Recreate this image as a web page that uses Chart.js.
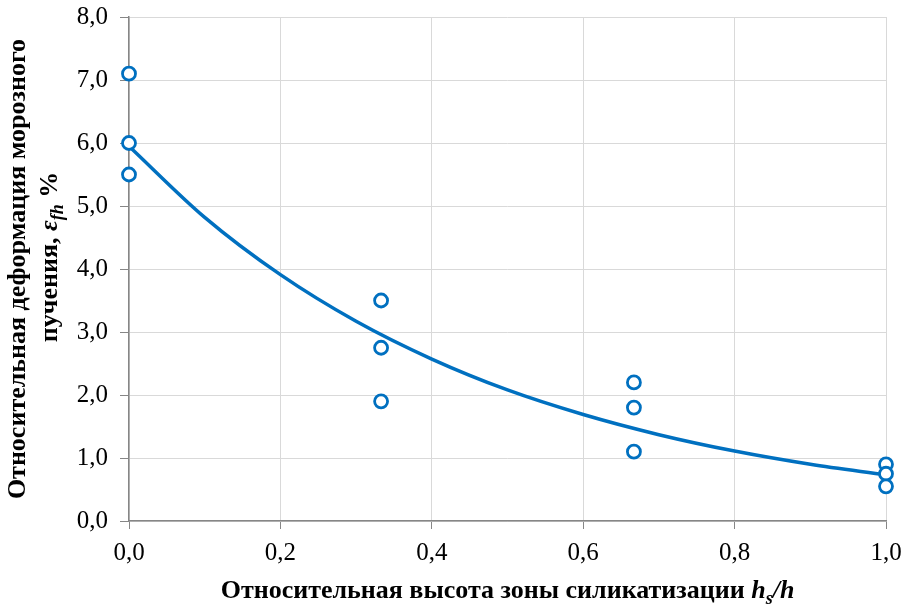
<!DOCTYPE html>
<html>
<head>
<meta charset="utf-8">
<script src="https://cdn.jsdelivr.net/npm/chart.js@4.4.1/dist/chart.umd.min.js"></script>
<style>
html,body{margin:0;padding:0;background:#fff;}
#wrap{width:906px;height:608px;}
</style>
</head>
<body>
<div id="wrap"><canvas id="c" width="906" height="608"></canvas></div>
<script>
// Measured points (x = hs/h, y = εfh %)
const pointsX = [0, 0, 0, 0.333, 0.333, 0.333, 0.667, 0.667, 0.667, 1, 1, 1];
const pointsY = [7.1, 6.0, 5.5, 3.5, 2.75, 1.9, 2.2, 1.8, 1.1, 0.9, 0.75, 0.55];
// Trend curve
const trendX = [0, 0.1, 0.2, 0.3, 0.4, 0.5, 0.6, 0.7, 0.8, 0.9, 1.0];
const trendY = [5.95, 4.82, 3.91, 3.17, 2.57, 2.08, 1.69, 1.37, 1.11, 0.90, 0.73];
const xTicks = [0, 0.2, 0.4, 0.6, 0.8, 1.0];
const yTicks = [0, 1, 2, 3, 4, 5, 6, 7, 8];

const BLUE = '#0070C0';
const fmt = v => Number(v).toFixed(1).replace('.', ',');

function drawRuns(ctx, runs, cx, cy) {
  let total = 0;
  runs.forEach(r => { ctx.font = r.font; r.w = ctx.measureText(r.t).width; total += r.w; });
  let x = cx - total / 2;
  runs.forEach(r => {
    ctx.font = r.font;
    ctx.fillText(r.t, x, cy + (r.dy || 0));
    x += r.w;
  });
}

const titles = {
  id: 'titles',
  afterDraw(chart) {
    const ctx = chart.ctx;
    const a = chart.chartArea;
    ctx.save();
    ctx.fillStyle = '#000';
    ctx.textBaseline = 'alphabetic';
    ctx.textAlign = 'left';
    const B = 'bold 26px "Liberation Serif"';
    const BI = 'italic bold 26px "Liberation Serif"';
    const SI = 'italic bold 18px "Liberation Serif"';
    drawRuns(ctx, [
      {t: 'Относительная высота зоны силикатизации ', font: B},
      {t: 'h', font: BI},
      {t: 's', font: SI, dy: 6},
      {t: '/h', font: BI}
    ], (a.left + a.right) / 2, 598);
    ctx.save();
    const cy = (a.top + a.bottom) / 2;
    ctx.translate(25, cy);
    ctx.rotate(-Math.PI / 2);
    drawRuns(ctx, [{t: 'Относительная деформация морозного', font: B}], 0, 0);
    drawRuns(ctx, [
      {t: 'пучения, ', font: B},
      {t: 'ε', font: BI},
      {t: 'fh', font: SI, dy: 6},
      {t: ' %', font: B}
    ], 12, 32);
    ctx.restore();
    ctx.restore();
  }
};

new Chart(document.getElementById('c'), {
  type: 'scatter',
  data: {
    datasets: [
      {
        label: 'trend',
        data: trendX.map((x, i) => ({x: x, y: trendY[i]})),
        showLine: true,
        borderColor: BLUE,
        borderWidth: 3.5,
        pointRadius: 0,
        cubicInterpolationMode: 'monotone',
        clip: false,
        order: 2
      },
      {
        label: 'data',
        data: pointsX.map((x, i) => ({x: x, y: pointsY[i]})),
        showLine: false,
        pointStyle: 'circle',
        pointRadius: 6.5,
        pointBorderWidth: 2.8,
        pointBorderColor: BLUE,
        pointBackgroundColor: '#fff',
        clip: false,
        order: 1
      }
    ]
  },
  options: {
    responsive: false,
    animation: false,
    layout: {padding: {left: 0, right: 20, top: 17, bottom: 0}},
    plugins: {legend: {display: false}, tooltip: {enabled: false}},
    scales: {
      x: {
        type: 'linear', min: 0, max: 1,
        afterBuildTicks: s => { s.ticks = xTicks.map(v => ({value: v})); },
        afterFit: s => { s.height = 87; s.paddingLeft = 0; s.paddingRight = 0; },
        grid: {color: '#d9d9d9', lineWidth: 1, tickColor: '#868686', tickLength: 8, drawOnChartArea: true},
        border: {color: '#868686', width: 1.5},
        ticks: {color: '#000', font: {family: 'Liberation Serif', size: 25}, padding: 9, callback: v => fmt(v), maxRotation: 0}
      },
      y: {
        type: 'linear', min: 0, max: 8,
        afterBuildTicks: s => { s.ticks = yTicks.map(v => ({value: v})); },
        afterFit: s => { s.width = 129; s.paddingTop = 0; s.paddingBottom = 0; },
        grid: {color: '#d9d9d9', lineWidth: 1, tickColor: '#868686', tickLength: 9},
        border: {color: '#868686', width: 1.5},
        ticks: {color: '#000', font: {family: 'Liberation Serif', size: 25}, padding: 12, callback: v => fmt(v)}
      }
    }
  },
  plugins: [titles]
});
</script>
</body>
</html>
